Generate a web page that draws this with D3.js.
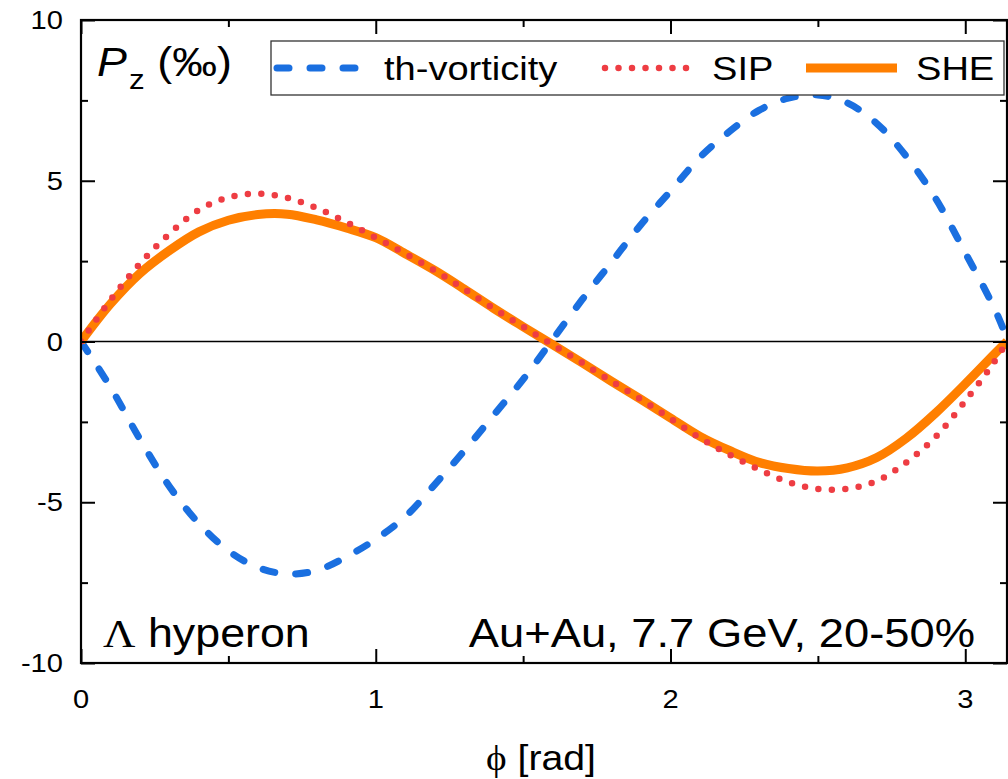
<!DOCTYPE html>
<html>
<head>
<meta charset="utf-8">
<script src="https://cdn.jsdelivr.net/npm/d3@7"></script>
<style>
  html, body { margin: 0; padding: 0; background: #fff; }
  svg { display: block; }
  text { font-family: "Liberation Sans", Arial, sans-serif; fill: #000; }
</style>
</head>
<body>
<svg id="chart" width="1008" height="779"></svg>
<script>
// Azimuthal angle grid (rad)
const phi = [0, 0.1, 0.2, 0.3, 0.4, 0.5, 0.6, 0.7, 0.8, 0.9, 1.0, 1.1, 1.2, 1.3, 1.4, 1.5,
             1.6, 1.7, 1.8, 1.9, 2.0, 2.1, 2.2, 2.3, 2.4, 2.5, 2.6, 2.7, 2.8, 2.9, 3.0, 3.1, 3.1416];

// Longitudinal polarization P_z (per mille) for each mechanism
const thVorticity = [0, -1.42, -3.04, -4.51, -5.66, -6.51, -7.03, -7.23, -7.12, -6.70, -6.15, -5.45,
                     -4.45, -3.40, -2.29, -1.18, 0.06, 1.30, 2.47, 3.64, 4.68, 5.73, 6.53, 7.19,
                     7.57, 7.67, 7.42, 6.78, 5.76, 4.44, 2.76, 1.01, 0.1];
const sip = [0, 1.29, 2.42, 3.35, 4.09, 4.48, 4.60, 4.47, 4.15, 3.71, 3.23, 2.73, 2.21, 1.63, 1.03,
             0.46, -0.10, -0.66, -1.24, -1.80, -2.40, -3.00, -3.52, -3.98, -4.37, -4.59, -4.58,
             -4.34, -3.76, -2.96, -1.85, -0.61, 0];
const she = [0, 1.17, 2.12, 2.83, 3.41, 3.77, 3.95, 3.96, 3.78, 3.53, 3.23, 2.73, 2.21, 1.63, 1.03,
             0.46, -0.10, -0.66, -1.24, -1.80, -2.38, -2.95, -3.39, -3.76, -3.95, -4.03, -3.93,
             -3.61, -3.01, -2.22, -1.32, -0.38, 0];

// Tick values
const xMajor = [0, 1, 2, 3];
const xMinor = [0.5, 1.5, 2.5];
const yMajor = [-10, -5, 0, 5, 10];
const yMinor = [-7.5, -2.5, 2.5, 7.5];

const W = 1008, H = 779;
const plot = { left: 81, top: 20, right: 1007, bottom: 663 };
const SX = 1.12; // horizontal glyph stretch

const svg = d3.select("#chart");
const x = d3.scaleLinear().domain([0, Math.PI]).range([plot.left, plot.right]);
const y = d3.scaleLinear().domain([-10, 10]).range([plot.bottom, plot.top]);

function label(parent, px, py, str, size, anchor) {
  return parent.append("text")
    .attr("transform", `translate(${px},${py}) scale(${SX},1)`)
    .attr("font-size", size)
    .attr("text-anchor", anchor || "start")
    .text(str);
}

// clip for curves
svg.append("defs").append("clipPath").attr("id", "plotclip")
  .append("rect")
  .attr("x", plot.left).attr("y", plot.top)
  .attr("width", plot.right - plot.left).attr("height", plot.bottom - plot.top);

// zero line
svg.append("line")
  .attr("x1", plot.left).attr("x2", plot.right)
  .attr("y1", y(0)).attr("y2", y(0))
  .attr("stroke", "#000").attr("stroke-width", 1.5);

// curves
const line = d3.line().x((d, i) => x(phi[i])).y(d => y(d)).curve(d3.curveCatmullRom.alpha(0.5));
const curves = svg.append("g").attr("clip-path", "url(#plotclip)");

const styles = {
  "th-vorticity": { color: "#1a6fe0", width: 7, dash: "12 21", cap: "round" },
  "SIP": { color: "#ee3d43", width: 6.5, dash: "0 13.5", cap: "round" },
  "SHE": { color: "#ff7f00", width: 9, dash: null, cap: "butt" }
};
const seriesData = { "th-vorticity": thVorticity, "SIP": sip, "SHE": she };

["th-vorticity", "SHE", "SIP"].forEach(name => {
  const s = styles[name];
  curves.append("path")
    .datum(seriesData[name])
    .attr("d", line)
    .attr("fill", "none")
    .attr("stroke", s.color)
    .attr("stroke-width", s.width)
    .attr("stroke-linecap", s.cap)
    .attr("stroke-linejoin", "round")
    .attr("stroke-dasharray", s.dash);
});

// ticks (inward) on all four sides
function tickAxis(axis, tx, ty, values, size) {
  const g = svg.append("g").attr("transform", `translate(${tx},${ty})`)
    .call(axis.tickValues(values).tickSize(size).tickFormat(""));
  g.select(".domain").remove();
  g.selectAll(".tick line").attr("stroke", "#000").attr("stroke-width", 2);
}
tickAxis(d3.axisBottom(x), 0, plot.bottom, xMajor, -14);
tickAxis(d3.axisBottom(x), 0, plot.bottom, xMinor, -7);
tickAxis(d3.axisTop(x), 0, plot.top, xMajor, -14);
tickAxis(d3.axisTop(x), 0, plot.top, xMinor, -7);
tickAxis(d3.axisLeft(y), plot.left, 0, yMajor, -14);
tickAxis(d3.axisLeft(y), plot.left, 0, yMinor, -7);
tickAxis(d3.axisRight(y), plot.right, 0, yMajor, -14);
tickAxis(d3.axisRight(y), plot.right, 0, yMinor, -7);

// frame
svg.append("rect")
  .attr("x", plot.left).attr("y", plot.top)
  .attr("width", plot.right - plot.left).attr("height", plot.bottom - plot.top)
  .attr("fill", "none").attr("stroke", "#000").attr("stroke-width", 2.2);

// tick labels
xMajor.forEach(v => label(svg, x(v), plot.bottom + 45, String(v), 26, "middle"));
yMajor.forEach(v => label(svg, plot.left - 18, y(v) + 9, String(v), 26, "end"));

// axis title
const xt = svg.append("text")
  .attr("transform", `translate(541,770) scale(${SX},1)`)
  .attr("font-size", 35).attr("text-anchor", "middle");
xt.append("tspan").attr("font-family", "'Liberation Serif', 'DejaVu Serif', serif").text("\u03D5");
xt.append("tspan").text(" [rad]");

// y title: P_z (‰)
const yt = svg.append("text")
  .attr("transform", `translate(97,76) scale(${SX},1)`)
  .attr("font-size", 40);
yt.append("tspan").attr("font-style", "italic").text("P");
yt.append("tspan").attr("font-size", 28).attr("dy", 13).attr("dx", 2).text("z");
yt.append("tspan").attr("dy", -13).text(" (\u2030)");

// annotations
const lam = svg.append("text")
  .attr("transform", `translate(103,647) scale(${SX},1)`)
  .attr("font-size", 40);
lam.append("tspan").attr("font-family", "'Liberation Serif', 'DejaVu Serif', serif").text("\u039B");
lam.append("tspan").text(" hyperon");
label(svg, 975, 647, "Au+Au, 7.7 GeV, 20-50%", 40.5, "end");

// legend
const lg = svg.append("g");
lg.append("rect")
  .attr("x", 271).attr("y", 41).attr("width", 733).attr("height", 54)
  .attr("fill", "#fff").attr("stroke", "#333").attr("stroke-width", 1.3);
const legendItems = [
  { name: "th-vorticity", x0: 277, x1: 357, tx: 384 },
  { name: "SIP", x0: 605, x1: 696, tx: 712 },
  { name: "SHE", x0: 806, x1: 897, tx: 916 }
];
legendItems.forEach(it => {
  const s = styles[it.name];
  lg.append("line")
    .attr("x1", it.x0).attr("x2", it.x1).attr("y1", 68).attr("y2", 68)
    .attr("stroke", s.color).attr("stroke-width", s.width)
    .attr("stroke-linecap", s.cap).attr("stroke-dasharray", s.dash);
  label(lg, it.tx, 80, it.name, 34, "start");
});
</script>
</body>
</html>
